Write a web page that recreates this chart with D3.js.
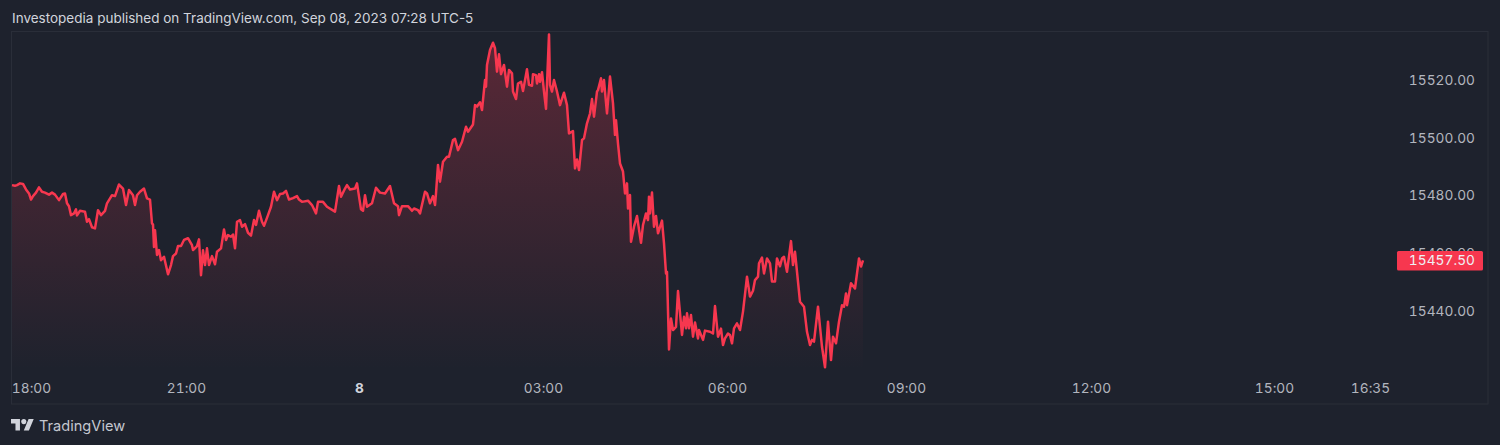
<!DOCTYPE html>
<html><head><meta charset="utf-8">
<script src="https://cdnjs.cloudflare.com/ajax/libs/d3/7.8.5/d3.min.js"></script>
<style>
html,body{margin:0;padding:0;background:#1e222d;overflow:hidden}
svg{display:block}
text{font-family:Inter,"Noto Sans",sans-serif}
.num text,text.num{font-feature-settings:"tnum";font-size:13.7px;letter-spacing:0.05px}
</style></head><body>
<svg id="c" width="1500" height="445"></svg>
<script>
const titleText = "Investopedia published on TradingView.com, Sep 08, 2023 07:28 UTC-5";
const brandText = "TradingView";
const lastPrice = 15457.5;
const priceTicks = [15440, 15460, 15480, 15500, 15520];
const timeTickValues = [19, 174, 347, 531, 715, 894, 1079, 1262, 1358];
const timeTickLabels = ["18:00", "21:00", "8", "03:00", "06:00", "09:00", "12:00", "15:00", "16:35"];
const minutes = [0,3,5,8,11,14,17,19,21,24,27,30,33,37,40,43,47,51,53,55,57,59,62,64,65,68,73,75,77,80,83,86,89,93,95,100,103,107,111,114,117,121,123,125,128,132,135,138,140,141,142,143,145,147,149,152,156,159,161,164,166,169,172,176,180,181,185,187,189,191,193,195,197,200,203,205,209,212,214,216,219,221,223,225,228,230,233,236,239,242,244,247,250,252,256,259,262,265,268,271,274,277,281,285,287,290,296,300,304,306,311,315,323,327,329,333,335,338,343,345,349,351,353,355,360,364,368,373,378,382,386,387,390,396,400,402,406,408,413,415,418,421,423,424,426,428,431,435,437,441,443,446,450,454,456,461,463,465,468,470,473,474,475,478,481,483,485,487,489,492,495,497,500,501,504,506,509,511,515,517,520,521,524,525,527,528,530,532,534,537,538,540,542,545,548,552,555,557,561,563,565,567,570,572,575,578,580,582,585,586,589,590,592,593,595,598,601,603,604,606,608,611,613,615,616,618,619,622,625,629,631,634,636,637,638,640,642,644,646,650,652,654,655,657,659,661,664,666,670,672,674,675,677,679,681,683,686,687,691,693,698,701,703,706,709,711,713,716,718,720,722,725,728,731,735,738,741,743,746,747,750,752,755,758,760,763,765,768,770,772,775,779,781,783,786,788,792,795,798,800,802,806,810,813,816,819,821,824,827,830,832,834,835,839,843,847,849,851];
const prices = [15483.6,15483.4,15483.6,15484.2,15484,15482.1,15480.7,15478.6,15479.8,15481,15482.8,15481.3,15481,15480.3,15481,15480.3,15478.4,15480.5,15480.7,15477.3,15476.3,15473.2,15473.8,15475.2,15473.1,15474.7,15474.4,15470.9,15471.8,15469,15468.6,15474.9,15473.2,15474.7,15477.3,15480.1,15479.8,15483.8,15482.4,15476.7,15481.9,15480.1,15476.7,15480.1,15481.3,15482.4,15479,15478.6,15470.3,15470,15462.2,15468,15459.4,15461.1,15457.6,15458.8,15452.7,15455.9,15459,15459.9,15462.5,15462.5,15464.6,15465.2,15462.8,15461.1,15462.5,15464.8,15452.4,15461,15455.9,15461.7,15455.9,15459,15456.2,15460.5,15461.7,15468.2,15464.6,15466.3,15465.7,15466.5,15461.7,15470.9,15471.5,15469.2,15470.1,15467.1,15466.1,15471.5,15469.8,15474.7,15470.9,15469.5,15473.2,15476.1,15481.3,15478.4,15480.5,15480.7,15481.6,15478.6,15479.1,15479.8,15478.6,15477.8,15478.2,15476.7,15473.8,15477.8,15477.8,15476.1,15474.4,15483.3,15479.6,15482.4,15483.6,15482.1,15482.4,15484.2,15475.2,15474.7,15480.1,15476.1,15477.3,15482.7,15481,15480.7,15483.3,15477.3,15476.3,15473.2,15476.3,15476.3,15474.7,15475.5,15474.9,15473.8,15481.3,15480.7,15477.3,15479.8,15476.7,15480.7,15490.6,15484.8,15491.7,15493.4,15493.4,15499.2,15499.6,15495.7,15498.6,15503.8,15502.1,15504.6,15511.3,15510.8,15512.3,15509.6,15520,15517.7,15525.2,15530.4,15532.9,15531,15522.9,15528.9,15522,15525.2,15517.7,15523.5,15522.3,15516,15513.4,15518.8,15519.4,15516.2,15523.7,15518.3,15518,15522,15521.7,15518.8,15522,15519.4,15522.7,15516,15510,15535.8,15518.3,15516,15520,15516,15511.3,15515.6,15511.3,15501.5,15502.3,15489.4,15492.5,15488.8,15499.2,15499.8,15505,15508.4,15513.4,15507.3,15516,15516.5,15520.6,15516,15520,15516,15508.4,15521.2,15511.9,15501,15506.1,15498,15491.1,15488.3,15480.7,15484.2,15475.5,15480.2,15464,15469.2,15472.9,15463.6,15469.8,15473.8,15471.5,15479.6,15473.8,15481,15469.2,15472.9,15466.9,15471.3,15463.4,15453,15453.6,15426.7,15437.4,15433.4,15434.5,15446.9,15431.7,15438,15434,15439.2,15434,15438.6,15431.1,15436,15430.5,15433.4,15430,15433.2,15432.8,15432.2,15441.7,15431.1,15433.9,15428.2,15430.5,15432.2,15431.7,15428.8,15434,15435.7,15433.4,15439.8,15451.9,15445,15447,15450.7,15451.9,15456.5,15458.5,15453,15458.2,15456.5,15450.2,15450.2,15458.2,15455.5,15458.2,15458.8,15453.6,15464.2,15455.9,15460.5,15450.2,15443.2,15441.5,15432.8,15428.2,15430,15429.4,15441.5,15427.6,15420.5,15436.3,15423,15431.1,15428.8,15436.3,15442,15441.5,15446.1,15442,15449.6,15447.8,15458.2,15455.4,15457.5];

const lineColor = "#f7374f", border = "#2a2e39", axisText = "#b2b5be";
const svg = d3.select("#c");
const x = d3.scaleLinear().domain([0, 1378]).range([12, 1390]);
const y = d3.scaleLinear().domain([15440, 15520]).range([311, 80]);
const points = minutes.map((m, i) => [m, prices[i]]);

const defs = svg.append("defs");
const grad = defs.append("linearGradient").attr("id", "g").attr("gradientUnits", "userSpaceOnUse")
  .attr("x1", 0).attr("x2", 0).attr("y1", y(15535)).attr("y2", 370);
grad.append("stop").attr("offset", 0).attr("stop-color", lineColor).attr("stop-opacity", 0.28);
grad.append("stop").attr("offset", 1).attr("stop-color", lineColor).attr("stop-opacity", 0);

svg.append("rect").attr("x", 11.5).attr("y", 31.5).attr("width", 1476.5).attr("height", 372.5)
  .attr("fill", "none").attr("stroke", border);

svg.append("path").datum(points).attr("fill", "url(#g)")
  .attr("d", d3.area().x(d => x(d[0])).y0(370).y1(d => y(d[1])));
svg.append("path").datum(points).attr("fill", "none").attr("stroke", lineColor)
  .attr("stroke-width", 2.5).attr("stroke-linejoin", "round")
  .attr("d", d3.line().x(d => x(d[0])).y(d => y(d[1])));

const yAxis = d3.axisLeft(y).tickValues(priceTicks).tickFormat(d3.format(".2f")).tickSize(0).tickPadding(0);
const gy = svg.append("g").attr("class", "num").attr("transform", "translate(1475,0)").call(yAxis);
gy.attr("font-size", null).attr("font-family", null);
gy.select(".domain").remove();
gy.selectAll("text").attr("fill", axisText);

const xAxis = d3.axisBottom(x).tickValues(timeTickValues)
  .tickFormat((d, i) => timeTickLabels[i]).tickSize(0).tickPadding(0);
const gx = svg.append("g").attr("class", "num").attr("transform", "translate(0,383)").call(xAxis);
gx.attr("font-size", null).attr("font-family", null);
gx.select(".domain").remove();
gx.selectAll("text").attr("fill", axisText)
  .filter((d, i) => timeTickLabels[i] === "8").attr("fill", "#d1d4dc").style("font-weight", 700);

svg.append("rect").attr("x", 1397).attr("width", 86).attr("height", 19.5).attr("rx", 1.5)
  .attr("y", y(lastPrice) - 9.5).attr("fill", "#f7374f");
svg.append("text").attr("class", "num").attr("x", 1475).attr("y", y(lastPrice)).attr("dy", "0.34em").attr("text-anchor", "end")
  .attr("fill", "#eef1f5").text(d3.format(".2f")(lastPrice));

svg.append("text").attr("x", 12).attr("y", 23).attr("fill", "#d1d4dc").style("font-size", "13.5px").text(titleText);

const logo = svg.append("g").attr("transform", "translate(11,416.5) scale(0.64)").attr("fill", "#d1d4dc");
logo.append("path").attr("d", "M14 22H7V11H0V4h14v18zM28 22h-8l7.5-18h8L28 22z");
logo.append("circle").attr("cx", 20).attr("cy", 8).attr("r", 4);
svg.append("text").attr("x", 39).attr("y", 430.5).attr("fill", "#c4c7d0").style("font-size", "14.6px").text(brandText);
</script></body></html>
